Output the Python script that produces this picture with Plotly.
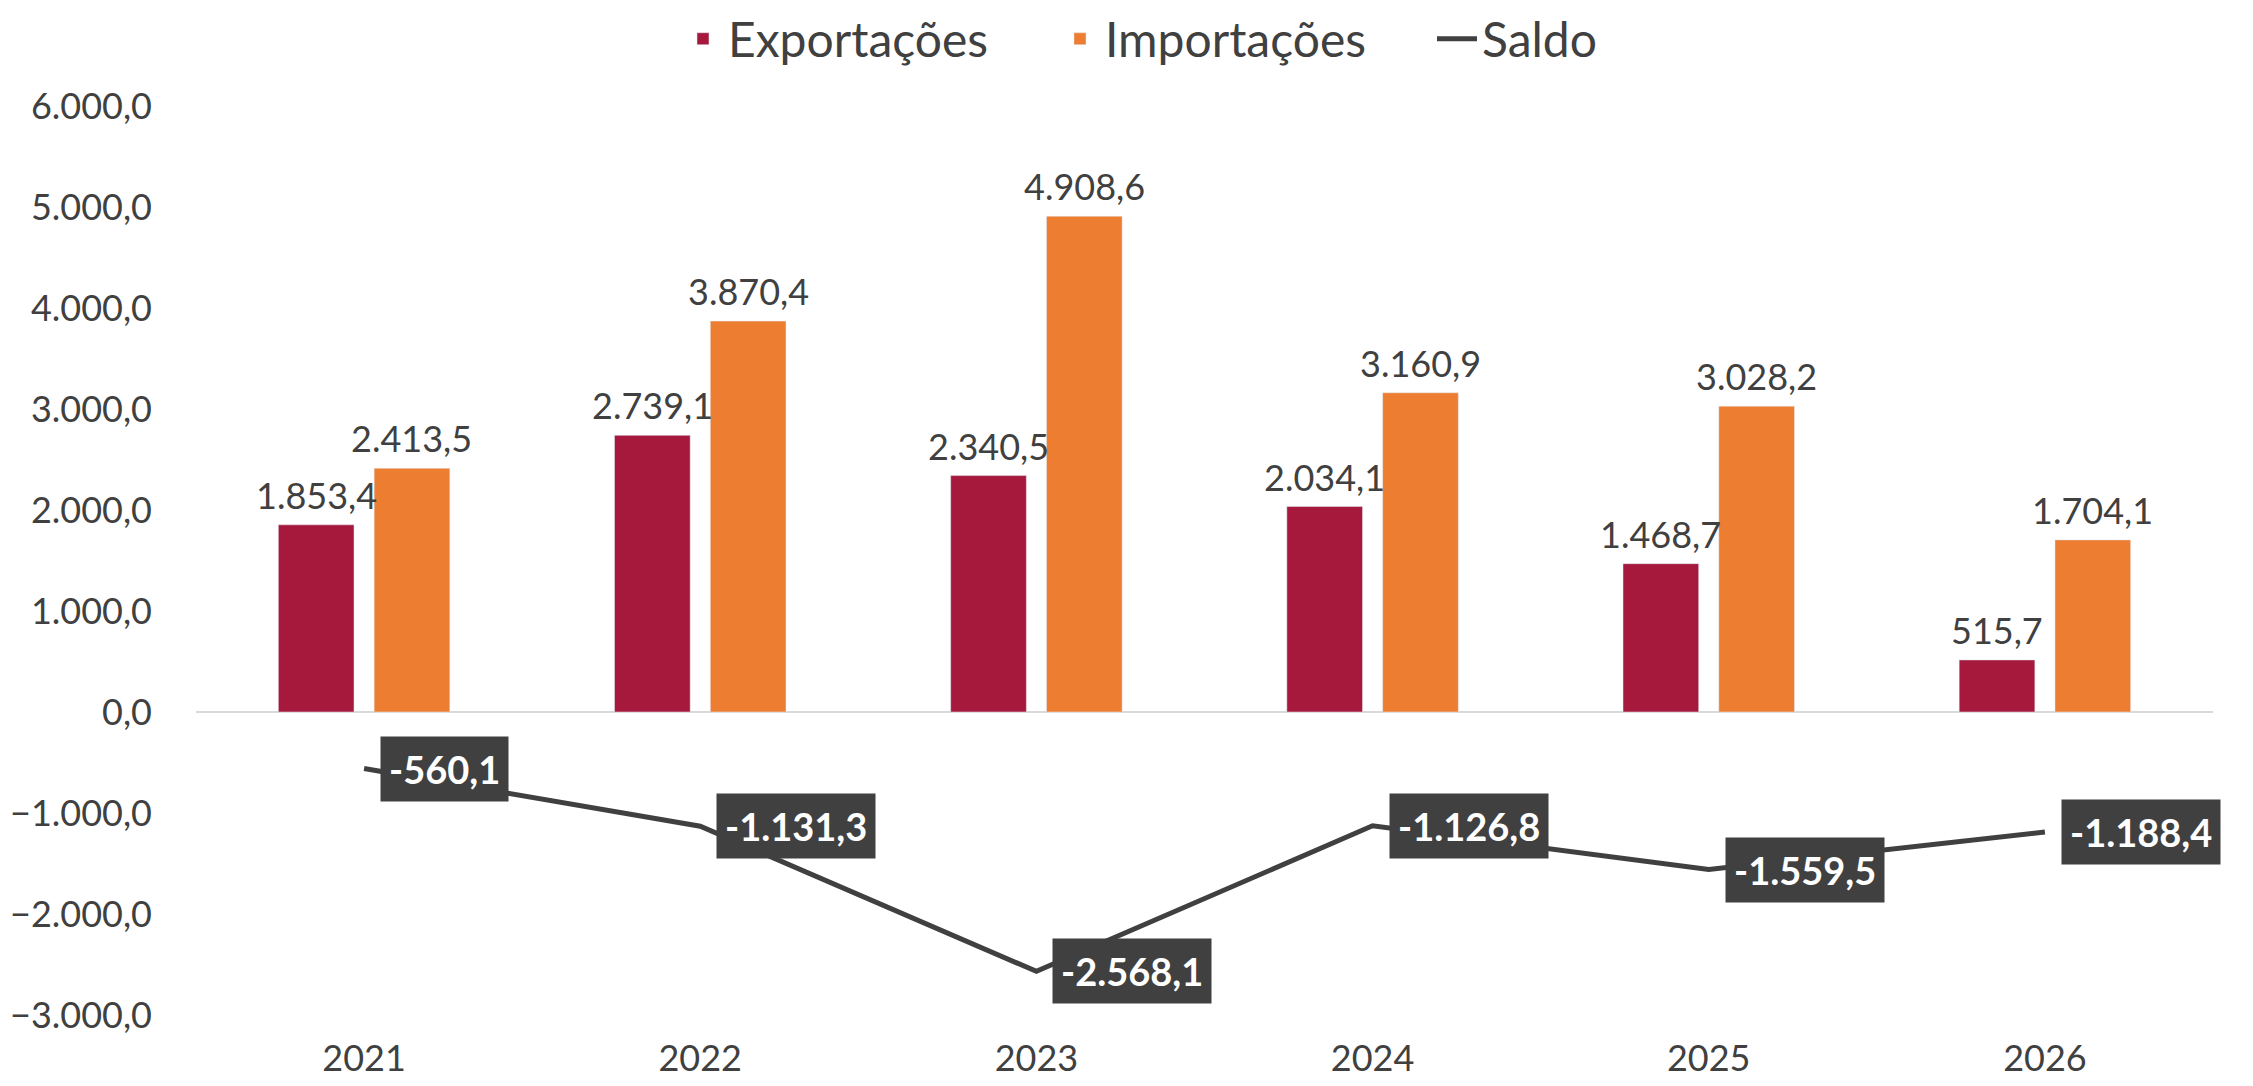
import plotly.graph_objects as go

anos = ["2021", "2022", "2023", "2024", "2025", "2026"]
exportacoes = [1853.4, 2739.1, 2340.5, 2034.1, 1468.7, 515.7]
importacoes = [2413.5, 3870.4, 4908.6, 3160.9, 3028.2, 1704.1]
saldo = [-560.1, -1131.3, -2568.1, -1126.8, -1559.5, -1188.4]

C_EXP = "#A6193C"
C_IMP = "#ED7D31"
C_SAL = "#404040"
TXT = "#404040"
FONT = "Lato, Carlito, 'Liberation Sans Narrow', sans-serif"

BARGAP = 0.43
BARGROUPGAP = 0.21
# page body has an 8px default margin: the figure is sized to fit inside it
W, H = 2253 - 16, 1086 - 16


def fmt_br(v):
    s = f"{v:,.1f}"
    return s.replace(",", "X").replace(".", ",").replace("X", ".")


fig = go.Figure()
fig.add_trace(go.Bar(
    x=anos, y=exportacoes, name="Exportações", marker_color=C_EXP,
))
fig.add_trace(go.Bar(
    x=anos, y=importacoes, name="Importações", marker_color=C_IMP,
))
fig.add_trace(go.Scatter(
    x=anos, y=saldo, name="Saldo", mode="lines",
    line=dict(color=C_SAL, width=5), cliponaxis=False,
))

# bar value labels (category axis: annotation x is the category index,
# shifted by the grouped-bar slot offset)
slot = (1 - BARGAP) / 2
for series, off in ((exportacoes, -slot / 2), (importacoes, slot / 2)):
    for i, v in enumerate(series):
        fig.add_annotation(
            x=i + off, y=v, xref="x", yref="y", text=fmt_br(v),
            showarrow=False, xanchor="center", yanchor="middle", yshift=30,
            font=dict(size=36, color=TXT, family=FONT),
        )

# saldo labels
for i, v in enumerate(saldo):
    fig.add_annotation(
        x=i, y=v, xref="x", yref="y", text=f"<b>{fmt_br(v)}</b>",
        showarrow=False, xanchor="left", yanchor="middle", xshift=16,
        font=dict(size=38, color="white", family=FONT),
        bgcolor=C_SAL, borderpad=8, height=48,
    )

fig.update_layout(
    width=W, height=H,
    margin=dict(l=188, r=32, t=98, b=63, autoexpand=False),
    paper_bgcolor="white", plot_bgcolor="white",
    barmode="group", bargap=BARGAP, bargroupgap=BARGROUPGAP,
    separators=",.",
    font=dict(family=FONT, color=TXT, size=36),
    showlegend=True,
    legend=dict(
        orientation="h", xref="container", yref="container",
        x=0.2995, xanchor="left", y=0.971, yanchor="middle",
        font=dict(size=48, color=TXT, family=FONT),
        itemwidth=40, tracegroupgap=0, entrywidth=322,
    ),
)
fig.update_yaxes(
    range=[-3000, 6000], dtick=1000, tickformat=",.1f", automargin=False,
    showgrid=False, zeroline=True, zerolinecolor="#D9D9D9", zerolinewidth=2,
    showline=False, ticks="", ticklabelstandoff=43,
    tickfont=dict(size=36, color=TXT, family=FONT),
)
fig.update_xaxes(
    type="category", categoryorder="array", categoryarray=anos,
    range=[-0.5, len(anos) - 0.5], autorange=False, automargin=False,
    showgrid=False, showline=False, ticks="", ticklabelstandoff=19,
    tickfont=dict(size=36, color=TXT, family=FONT),
)

fig.write_html("out.html")
